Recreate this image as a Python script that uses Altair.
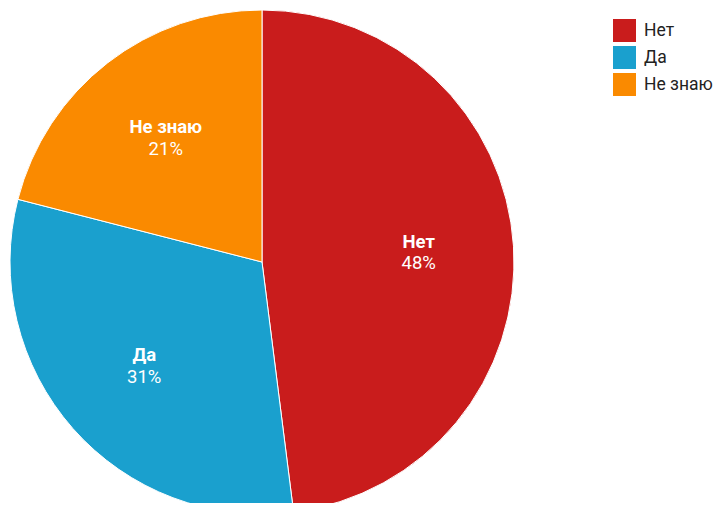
import altair as alt
import pandas as pd

categories = ["Нет", "Да", "Не знаю"]
values = [48, 31, 21]
colors = ["#C91C1C", "#1AA0CE", "#FA8A00"]

df = pd.DataFrame({
    "cat": categories,
    "val": values,
    "idx": list(range(len(categories))),
    "pct": [f"{v}%" for v in values],
})

cx, cy, R = 254, 254, 252

base = alt.Chart(df).encode(
    theta=alt.Theta("val:Q", stack=True),
    order=alt.Order("idx:Q"),
)

pie = base.mark_arc(outerRadius=R, stroke="white", strokeWidth=1).encode(
    x=alt.value(cx), y=alt.value(cy),
    color=alt.Color(
        "cat:N",
        scale=alt.Scale(domain=categories, range=colors),
        sort=categories,
        legend=alt.Legend(
            title=None, orient="none", legendX=605, legendY=11,
            symbolType="square", symbolSize=529, symbolStrokeWidth=0,
            labelFontSize=17.5, labelFont="Roboto", labelColor="#222222",
            rowPadding=4, labelOffset=8, padding=0, labelLimit=200,
        ),
    ),
)

names = base.mark_text(
    radius=157, font="Roboto", fontSize=18.5, fontWeight="bold",
    color="white", dy=-10.5, baseline="middle",
).encode(x=alt.value(cx), y=alt.value(cy), text="cat:N")

pcts = base.mark_text(
    radius=157, font="Roboto", fontSize=18.5,
    color="white", dy=11, baseline="middle",
).encode(x=alt.value(cx), y=alt.value(cy), text="pct:N")

chart = alt.layer(pie, names, pcts).properties(
    width=709, height=495,
    autosize=alt.AutoSizeParams(type="none"),
    padding=0,
).configure_view(stroke=None)

chart.save("out.html", embed_options={"renderer": "svg", "actions": False})
